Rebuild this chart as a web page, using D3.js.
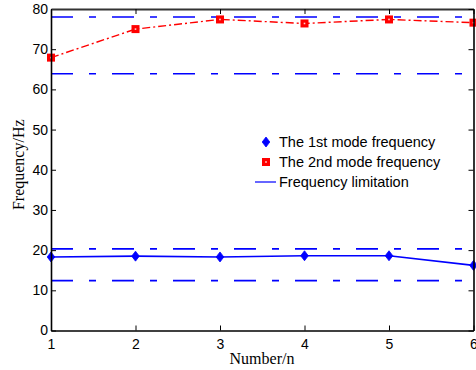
<!DOCTYPE html>
<html>
<head>
<meta charset="utf-8">
<script src="https://cdn.jsdelivr.net/npm/d3@7/dist/d3.min.js"></script>
<style>
  html, body { margin: 0; padding: 0; background: #fff; }
  svg { display: block; }
</style>
</head>
<body>
<svg id="chart" width="476" height="370"></svg>
<script>
// Mode frequencies per test number
const numbers = [1, 2, 3, 4, 5, 6];
const mode1 = [18.3, 18.5, 18.3, 18.6, 18.6, 16.2];
const mode2 = [67.9, 75.0, 77.4, 76.4, 77.4, 76.6];
// Upper/lower frequency limits for each mode
const limits = [78.0, 63.9, 20.3, 12.4];
const xTicks = [1, 2, 3, 4, 5, 6];
const yTicks = [0, 10, 20, 30, 40, 50, 60, 70, 80];
const legendLabels = ["The 1st mode frequency", "The 2nd mode frequency", "Frequency limitation"];

const svg = d3.select("#chart");
const L = 51, R = 473.5, T = 9, B = 330.5;

const x = d3.scaleLinear().domain([1, 6]).range([L, R]);
const y = d3.scaleLinear().domain([0, 80]).range([B, T]);

const blue = "#0000ff";
const red = "#ff0000";

// frequency limitation lines (dash-dot)
svg.append("g").selectAll("line").data(limits).join("line")
  .attr("x1", L).attr("x2", R)
  .attr("y1", d => y(d)).attr("y2", d => y(d))
  .attr("stroke", blue).attr("stroke-width", 1.6)
  .attr("stroke-dasharray", "22,16,7,16");

// 1st mode: solid line with diamonds
const line = d3.line().x((d, i) => x(numbers[i])).y(d => y(d));
svg.append("path").datum(mode1)
  .attr("d", line).attr("fill", "none")
  .attr("stroke", blue).attr("stroke-width", 1.6);

// 2nd mode: dash-dot line with squares
svg.append("path").datum(mode2)
  .attr("d", line).attr("fill", "none")
  .attr("stroke", red).attr("stroke-width", 1.4)
  .attr("stroke-dasharray", "8,3,2,3");

function diamond(g, cx, cy) {
  g.append("path")
    .attr("d", `M${cx},${cy - 5}L${cx + 3.8},${cy}L${cx},${cy + 5}L${cx - 3.8},${cy}Z`)
    .attr("fill", blue).attr("stroke", blue).attr("stroke-width", 0.8);
}
function square(g, cx, cy) {
  g.append("rect").attr("x", cx - 4).attr("y", cy - 4)
    .attr("width", 8).attr("height", 8).attr("fill", red);
  g.append("rect").attr("x", cx - 0.8).attr("y", cy - 0.8)
    .attr("width", 1.6).attr("height", 1.6).attr("fill", "#ffd0d0");
}

const marks = svg.append("g");
mode1.forEach((v, i) => diamond(marks, x(numbers[i]), y(v)));
mode2.forEach((v, i) => square(marks, x(numbers[i]), y(v)));

// axes box with inward ticks
const axisFont = "'Liberation Sans', Arial, sans-serif";
const gx = svg.append("g").attr("transform", `translate(0,${B})`)
  .call(d3.axisBottom(x).tickValues(xTicks).tickFormat(d3.format("d")).tickSizeInner(-5).tickSizeOuter(0).tickPadding(9));
const gy = svg.append("g").attr("transform", `translate(${L},0)`)
  .call(d3.axisLeft(y).tickValues(yTicks).tickFormat(d3.format("d")).tickSizeInner(-5).tickSizeOuter(0).tickPadding(3));
const gt = svg.append("g").attr("transform", `translate(0,${T})`)
  .call(d3.axisTop(x).tickValues(xTicks).tickFormat("").tickSizeInner(-5).tickSizeOuter(0));
const gr = svg.append("g").attr("transform", `translate(${R},0)`)
  .call(d3.axisRight(y).tickValues(yTicks).tickFormat("").tickSizeInner(-5).tickSizeOuter(0));

[gx, gy, gt, gr].forEach(g => {
  g.select(".domain").attr("stroke", "#000").attr("stroke-width", 1.6);
  g.selectAll(".tick line").attr("stroke", "#000").attr("stroke-width", 1);
  g.selectAll("text").attr("font-family", axisFont).attr("font-size", 14).attr("fill", "#000");
});
gt.select(".domain").attr("stroke", "#333").attr("stroke-width", 2);

// axis titles
const serif = "'Liberation Serif', 'Times New Roman', serif";
svg.append("text").attr("x", 262).attr("y", 364)
  .attr("text-anchor", "middle").attr("font-family", serif).attr("font-size", 16)
  .text("Number/n");
svg.append("text").attr("transform", `translate(24,${(T + B) / 2 - 5}) rotate(-90)`)
  .attr("text-anchor", "middle").attr("font-family", serif).attr("font-size", 16)
  .text("Frequency/Hz");

// legend
const lg = svg.append("g");
const lx = 266, ly = [142, 162, 182];
diamond(lg, lx, ly[0]);
square(lg, lx, ly[1]);
lg.append("line").attr("x1", lx - 11).attr("x2", lx + 10)
  .attr("y1", ly[2]).attr("y2", ly[2]).attr("stroke", blue).attr("stroke-width", 1.2);
legendLabels.forEach((t, i) => {
  lg.append("text").attr("x", 279).attr("y", ly[i] + 5)
    .attr("font-family", axisFont).attr("font-size", 14.5).text(t);
});
</script>
</body>
</html>
